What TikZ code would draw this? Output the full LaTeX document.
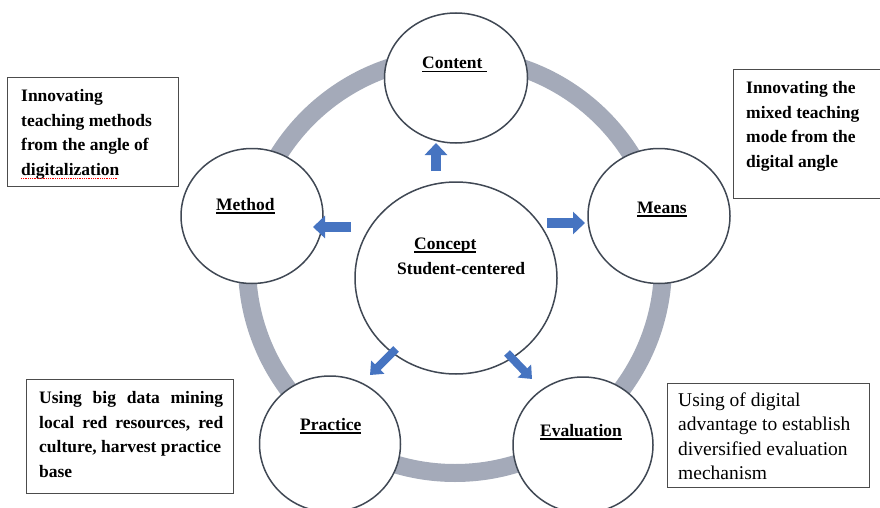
\documentclass[tikz,border=0pt]{standalone}
\usepackage{fontspec}
\setmainfont{Liberation Serif}
\usetikzlibrary{shapes.geometric,arrows.meta}

\definecolor{ringgrey}{RGB}{164,170,185}
\definecolor{edgegrey}{RGB}{64,72,84}
\definecolor{arrowblue}{RGB}{70,116,193}

% underlined stage name with a heavier rule
\newcommand{\uword}[1]{\setbox0=\hbox{#1}\rlap{\rule[-3.5pt]{\wd0}{1.4pt}}\box0}

\begin{document}
\begin{tikzpicture}[x=1pt, y=-1pt,
  stage/.style={ellipse, draw=edgegrey, line width=1.5pt, fill=white, inner sep=0pt},
  stagelabel/.style={anchor=base west, inner sep=0pt, font=\fontsize{17.5}{21}\selectfont\bfseries},
  notebox/.style={draw=black!70, line width=1.1pt, anchor=north west, inner sep=0pt},
  notetext/.style={anchor=north west, inner sep=0pt, align=left, font=\fontsize{17.5}{24.4}\selectfont\bfseries},
  push/.style={arrowblue, line width=10pt, -{Triangle[width=22pt,length=12pt]}},
  thinpush/.style={arrowblue, line width=8pt, -{Triangle[width=18pt,length=11pt]}},
]

\useasboundingbox (0,0) rectangle (880,508);
\fill[white] (0,0) rectangle (880,508);

% Grey ring behind the stages
\draw[ringgrey, line width=18pt] (455,265) circle[radius=208pt];

% Stages
\node[stage, minimum width=202pt, minimum height=192pt] (concept) at (456,278) {};
\node[stage, minimum width=143pt, minimum height=130pt] (content) at (456,78) {};
\node[stage, minimum width=142pt, minimum height=135pt] (method) at (252,216) {};
\node[stage, minimum width=142pt, minimum height=135pt] (means) at (659,216) {};
\node[stage, minimum width=141pt, minimum height=136pt] (practice) at (330,444) {};
\node[stage, minimum width=140pt, minimum height=136pt] (evaluation) at (583,445) {};

% Stage names
\node[stagelabel] (contentlabel) at (422,69) {\uword{Content\ }};
\node[stagelabel] (methodlabel) at (216,210) {\uword{Method}};
\node[stagelabel] (meanslabel) at (637,213) {\uword{Means}};
\node[stagelabel] (conceptlabel) at (414,249) {\uword{Concept}};
\node[stagelabel] (studentlabel) at (397,274) {Student-centered};
\node[stagelabel] (practicelabel) at (300,430) {\uword{Practice}};
\node[stagelabel] (evaluationlabel) at (540,436) {\uword{Evaluation}};

% Arrow ends
\coordinate (up0) at (436,171);
\coordinate (up1) at (436,143);
\coordinate (left0) at (351,227);
\coordinate (left1) at (313,227);
\coordinate (right0) at (547,223);
\coordinate (right1) at (585,223);
\coordinate (dl0) at (396,349);
\coordinate (dl1) at (370,375);
\coordinate (dr0) at (507,353);
\coordinate (dr1) at (532,379);

% Block arrows out of the concept
\draw[push] (up0) -- (up1);
\draw[push] (left0) -- (left1);
\draw[push] (right0) -- (right1);
\draw[thinpush] (dl0) -- (dl1);
\draw[thinpush] (dr0) -- (dr1);

% Notes
\node[notebox, minimum width=171pt, minimum height=109pt] (methodbox) at (7,77) {};
\node[notetext] (methodnote) at (21,89.5) {Innovating\\teaching methods\\from the angle of\\digitalization};
\draw[red, densely dotted, line width=0.8pt] (21,178) -- (117,178);

\node[notebox, minimum width=152pt, minimum height=129pt] (meansbox) at (733,69) {};
\node[notetext] (meansnote) at (746,81.5) {Innovating the\\mixed teaching\\mode from the\\digital angle};

\node[notebox, minimum width=207pt, minimum height=114pt] (practicebox) at (26,379) {};
\node[notetext, text width=184pt, align=justify] (practicenote) at (39,391.5)
  {Using\hfill big\hfill data\hfill mining\\local\hfill red\hfill resources,\hfill red\\culture, harvest practice\\base};

\node[notebox, minimum width=202pt, minimum height=104pt] (evaluationbox) at (667,383) {};
\node[notetext, font=\fontsize{19.5}{24.4}\selectfont] (evaluationnote) at (678,392.5)
  {Using of digital\\advantage to establish\\diversified evaluation\\mechanism};

\end{tikzpicture}
\end{document}
